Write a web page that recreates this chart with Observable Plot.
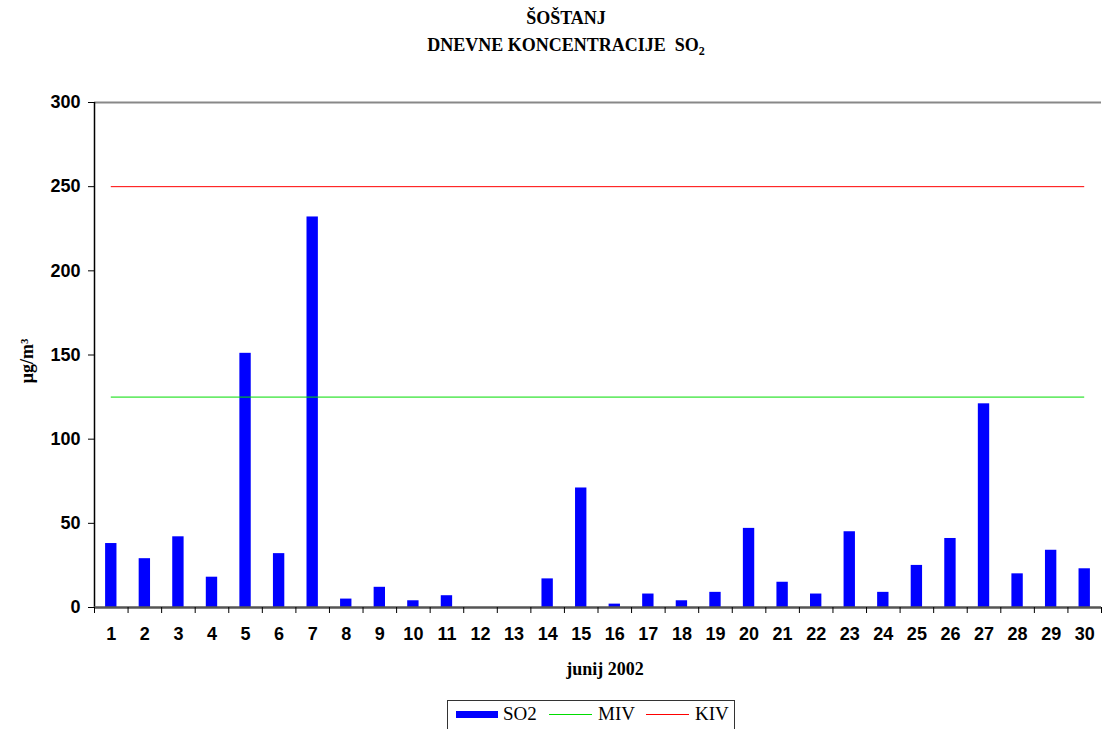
<!DOCTYPE html>
<html><head><meta charset="utf-8">
<script src="https://cdn.jsdelivr.net/npm/d3@7"></script>
<script src="https://cdn.jsdelivr.net/npm/@observablehq/plot@0.6"></script>
<style>
body{margin:0;background:#fff;}
#wrap{position:relative;width:1106px;height:729px;overflow:hidden;background:#fff;}
#chart{position:absolute;left:0;top:0;}
#title{position:absolute;left:0;top:5px;width:1132px;text-align:center;font-family:"Liberation Serif","Times New Roman",serif;font-weight:bold;font-size:18px;line-height:27px;color:#000;}
#title sub{font-size:12px;vertical-align:-4px;line-height:0;}
#legend{position:absolute;left:447px;top:700px;width:288px;height:40px;border:1px solid #333;box-sizing:border-box;font-family:"Liberation Serif","Times New Roman",serif;font-size:19px;color:#000;}
.sw{position:absolute;}
.lt{position:absolute;top:2px;}
</style></head>
<body>
<div id="wrap">
  <div id="chart"></div>
  <div id="title"><div>ŠOŠTANJ</div><div>DNEVNE KONCENTRACIJE&nbsp;&nbsp;SO<sub>2</sub></div></div>
  <div id="legend"></div>
</div>
<script>
const days = [1,2,3,4,5,6,7,8,9,10,11,12,13,14,15,16,17,18,19,20,21,22,23,24,25,26,27,28,29,30];
const so2 = [38,29,42,18,151,32,232,5,12,4,7,0,0,17,71,2,8,4,9,47,15,8,45,9,25,41,121,20,34,23];
const mivLimit = 125;
const kivLimit = 250;
const yTicks = [0,50,100,150,200,250,300];
const seriesNames = ["SO2","MIV","KIV"];
const seriesColors = ["#0000ff","#00dd00","#ff0000"];

const data = days.map((d,i)=>({day:d, value:so2[i]}));
const boundaries = days.map(d=>d-0.5).concat([days[days.length-1]+0.5]);

const chart = Plot.plot({
  width:1106, height:729,
  marginTop:102, marginBottom:122, marginLeft:94, marginRight:5,
  x:{domain:[days[0]-0.5, days[days.length-1]+0.5]},
  y:{domain:[0,300]},
  style:{fontFamily:"Arial, 'Liberation Sans', sans-serif", color:"#000", background:"#fff"},
  marks:[
    Plot.ruleY([300], {stroke:"#888", strokeWidth:2}),
    Plot.rectY(data, {x1:d=>d.day-0.5, x2:d=>d.day+0.5, y:"value", fill:seriesColors[0], insetLeft:11.1, insetRight:11.1}),
    Plot.ruleY([mivLimit], {x1:days[0], x2:days[days.length-1], stroke:seriesColors[1], strokeWidth:1}),
    Plot.ruleY([kivLimit], {x1:days[0], x2:days[days.length-1], stroke:seriesColors[2], strokeWidth:1}),
    Plot.ruleX([days[0]-0.5], {stroke:"#000", strokeWidth:1.5}),
    Plot.ruleY([0], {stroke:"#555", strokeWidth:2.5}),
    Plot.axisY({ticks:yTicks, tickSize:6, tickPadding:8, fontSize:18, fontWeight:"bold", label:null, stroke:"#000"}),
    Plot.axisX({ticks:days, tickSize:0, tickPadding:20, fontSize:18, fontWeight:"bold", label:null}),
    Plot.axisX({ticks:boundaries, tickSize:6, tickFormat:()=>"", label:null, stroke:"#000"}),
    Plot.text(["μg/m³"], {frameAnchor:"left", dx:-67, dy:6, rotate:-90, textAnchor:"middle", fontFamily:"'Liberation Serif', serif", fontWeight:"bold", fontSize:18}),
    Plot.text(["junij 2002"], {frameAnchor:"bottom", dx:7, dy:67, fontFamily:"'Liberation Serif', serif", fontWeight:"bold", fontSize:18})
  ]
});
document.getElementById("chart").appendChild(chart);

const lg = document.getElementById("legend");
lg.innerHTML =
  `<div class="sw" style="left:8px;top:10px;width:42px;height:7px;background:${seriesColors[0]}"></div>`+
  `<div class="lt" style="left:55px">${seriesNames[0]}</div>`+
  `<div class="sw" style="left:101px;top:13px;width:43px;height:1px;background:${seriesColors[1]}"></div>`+
  `<div class="lt" style="left:150px">${seriesNames[1]}</div>`+
  `<div class="sw" style="left:198px;top:13px;width:43px;height:1px;background:${seriesColors[2]}"></div>`+
  `<div class="lt" style="left:247px">${seriesNames[2]}</div>`;
</script>
</body></html>
